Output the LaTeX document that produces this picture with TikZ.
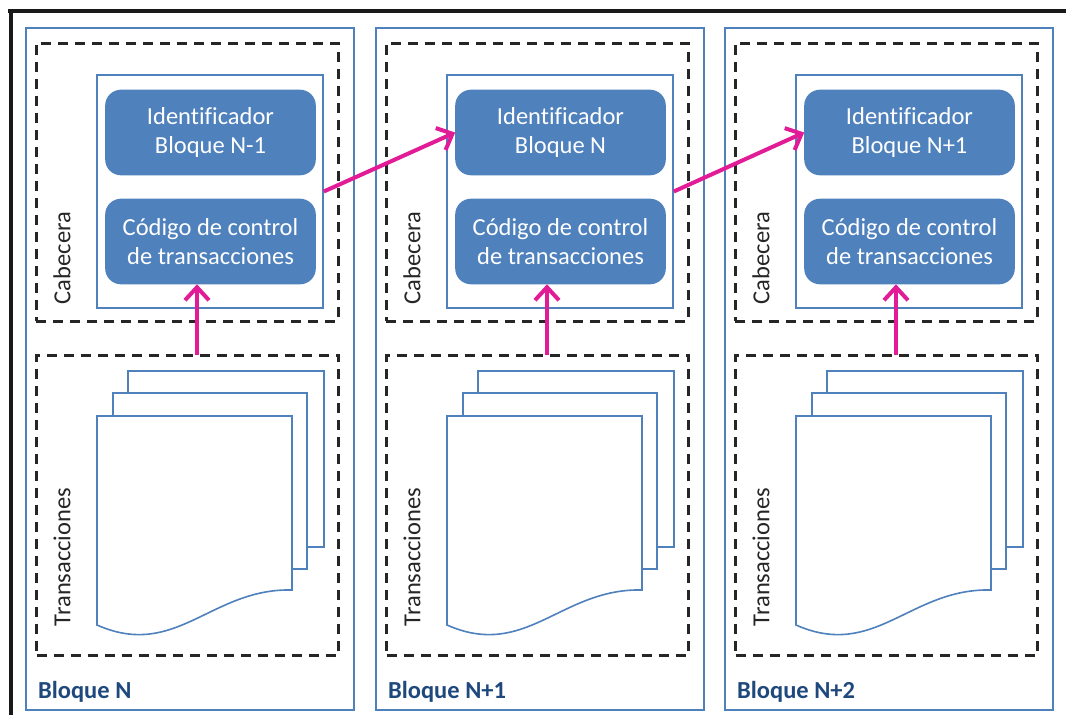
\documentclass[tikz,border=0pt]{standalone}
\usepackage{fontspec}
\setmainfont{Carlito}[Ligatures=NoCommon]
\usetikzlibrary{arrows.meta}

\definecolor{azul}{RGB}{79,129,189}
\definecolor{azulosc}{RGB}{31,73,125}
\definecolor{fucsia}{RGB}{226,28,150}

\begin{document}
\begin{tikzpicture}[x=1pt, y=-1pt, line width=1.6pt,
  font=\fontsize{24.5}{29}\selectfont,
  caja/.style={draw=azul, fill=white, line width=1.6pt},
  bloq/.style={draw=azul, fill=azul, rounded corners=15pt, text=white, align=center,
    minimum width=209pt, minimum height=84pt, inner sep=0pt},
  discont/.style={draw=black!85, line width=3pt, dash pattern=on 10pt off 7pt,
    minimum width=302pt, inner sep=0pt},
  flecha/.style={draw=fucsia, line width=4pt,
    -{Straight Barb[length=13pt, width=24pt, line width=4pt]}}]

\fill[white] (0,0) rectangle (1066,715);
\useasboundingbox (0,0) rectangle (1066,715);

% marco negro
\draw[line width=4pt, black!90] (8,11) -- (1066,11);
\draw[line width=4pt, black!90] (10.5,9) -- (10.5,715);

\foreach \x/\n/\a/\b in {26/1/N-1/N, 376/2/N/N+1, 725/3/N+1/N+2}{
  \draw[caja] (\x,28) rectangle (\x+328,710);
  \node[discont, minimum height=278pt] (cab\n) at (\x+161,182) {};
  \node[discont, minimum height=300pt] (tr\n) at (\x+161.5,505) {};
  \node[caja, minimum width=226pt, minimum height=233pt, inner sep=0pt] (hdr\n) at (\x+184,191.5) {};
  \node[bloq] (id\n) at (\x+184.5,132.5) {Identificador\\Bloque \a};
  \node[bloq] (cod\n) at (\x+184.5,241.5) {Código de control\\de transacciones};
  \node[rotate=90, text=black!85] (lcab\n) at (\x+36,258) {Cabecera};
  \node[rotate=90, text=black!85] (ltr\n) at (\x+36,557) {Transacciones};
  \node[anchor=west, text=azulosc, font=\fontsize{24.5}{29}\selectfont\bfseries] (tit\n) at (\x+8,692) {Bloque \b};
  % hojas
  \draw[caja] (\x+102,371) rectangle (\x+298,547);
  \draw[caja] (\x+87,393) rectangle (\x+281,569);
  \draw[caja] (\x+71,416) -- (\x+266,416) -- (\x+266,590)
    .. controls (\x+185,588) and (\x+150,660) .. (\x+71,625) -- cycle;
  \coordinate (pie\n) at (\x+171,355);
  \draw[flecha] (pie\n) -- (pie\n |- cod\n.south);
}

\draw[flecha] (hdr1.east) -- (id2.west);
\draw[flecha] (hdr2.east) -- (id3.west);

\end{tikzpicture}
\end{document}
